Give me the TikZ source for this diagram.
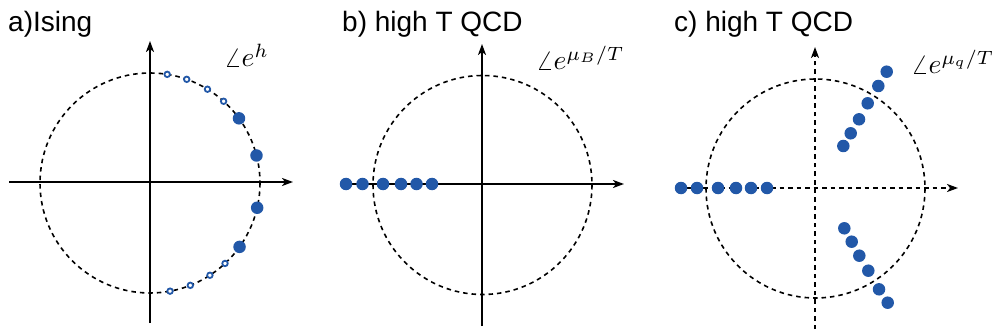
\documentclass[tikz,border=0pt]{standalone}
\usepackage{fontspec}
\setsansfont{Liberation Sans}
\usetikzlibrary{arrows.meta,calc}
\definecolor{dotblue}{RGB}{34,88,168}
\newcommand{\biglab}[1]{\scalebox{2.75}{$#1$}}
\tikzset{
  axis/.style={line width=1.9pt,-{Stealth[length=11pt,width=8pt,inset=3pt]}},
  daxis/.style={line width=1.9pt,dash pattern=on 4.5pt off 4pt,-{Stealth[length=11pt,width=8pt,inset=3pt]}},
  ucircle/.style={line width=1.6pt,dash pattern=on 4.5pt off 4pt},
  bigdot/.style={circle,fill=dotblue,inner sep=0pt,minimum size=12.5pt},
  smalldot/.style={circle,draw=dotblue,fill=white,line width=1.8pt,inner sep=0pt,minimum size=5.5pt},
  title/.style={font=\sffamily\fontsize{28}{32}\selectfont,anchor=base west,inner sep=0pt},
  mlabel/.style={anchor=base west,inner sep=0pt},
}
\begin{document}
\begin{tikzpicture}[x=1pt,y=-1pt]
\useasboundingbox (0,0) rectangle (992,331);
% ---------- panel a ----------
\node[title] (ta) at (8,32) {a)Ising};
\coordinate (aO) at (150,183);
\draw[ucircle] (aO) circle[radius=110];
\coordinate (aL) at (9,182);
\coordinate (aR) at (293,182);
\coordinate (aB) at (150,323);
\coordinate (aT) at (150,41);
\draw[axis] (aL) -- (aR);
\draw[axis] (aB) -- (aT);
\node[mlabel] (la) at (224,67) {\biglab{\angle e^{h}}};
\foreach \ang [count=\i] in {81,70.5,58.5,48,-47,-57,-68.5,-79.5}
  \node[smalldot] (as\i) at ($(aO)+(-\ang:110)$) {};
\foreach \ang [count=\i] in {36,14.5,-13,-35.5}
  \node[bigdot] (ab\i) at ($(aO)+(-\ang:110)$) {};
% ---------- panel b ----------
\node[title] (tb) at (342,32) {b) high T QCD};
\coordinate (bO) at (482.5,185);
\draw[ucircle] (bO) circle[radius=109.5];
\coordinate (bL) at (346,184);
\coordinate (bR) at (624,184);
\coordinate (bB) at (482,326);
\coordinate (bT) at (482,44);
\draw[axis] (bL) -- (bR);
\draw[axis] (bB) -- (bT);
\node[mlabel] (lb) at (536,70) {\biglab{\angle e^{\mu_B/T}}};
\foreach \x [count=\i] in {346,362.5,383,401,416.5,432}
  \node[bigdot] (bd\i) at (\x,184) {};
% ---------- panel c ----------
\node[title] (tc) at (674,32) {c) high T QCD};
\coordinate (cO) at (815.5,188.5);
\draw[ucircle] (cO) circle[radius=109.5];
\coordinate (cL) at (686,188);
\coordinate (cR) at (958,188);
\coordinate (cB) at (815,329);
\coordinate (cT) at (815,47);
\draw[daxis] (cL) -- (cR);
\draw[daxis] (cB) -- (cT);
\node[mlabel] (lc) at (911,74) {\biglab{\angle e^{\mu_q/T}}};
\foreach \x [count=\i] in {681,697,718,736,751,767}
  \node[bigdot] (ch\i) at (\x,188) {};
\foreach \x/\y [count=\i] in {886.7/71.7,878.3/86,867.7/103.3,859/119.3,850.7/133.3,843.3/146}
  \node[bigdot] (cu\i) at (\x,\y) {};
\foreach \x/\y [count=\i] in {844.3/228.3,851.7/241.7,859.3/255.7,868.3/270.7,879/289.3,887.7/302.7}
  \node[bigdot] (cd\i) at (\x,\y) {};
\end{tikzpicture}
\end{document}
